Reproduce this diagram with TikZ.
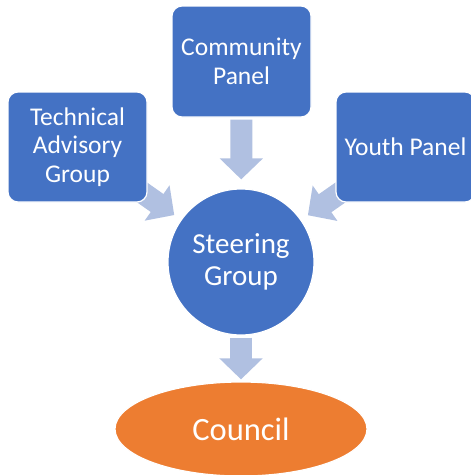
\documentclass[tikz,border=0pt]{standalone}
\usepackage{fontspec}
\setmainfont{Carlito}
\usetikzlibrary{arrows.meta,shapes.geometric}

\definecolor{boxblue}{HTML}{4472C4}
\definecolor{arrowblue}{HTML}{B0C0E1}
\definecolor{councilorange}{HTML}{ED7D31}

\pgfdeclarelayer{back}
\pgfsetlayers{back,main}

\tikzset{
  panel/.style={rectangle, rounded corners=10pt, fill=boxblue, draw=white,
    line width=1.2pt, minimum width=139pt, minimum height=110pt,
    text=white, align=center, inner sep=2pt,
    font=\fontsize{25.5}{28.5}\selectfont},
  hub/.style={circle, fill=boxblue, draw=white, line width=1.2pt,
    minimum size=146pt, inner sep=0pt, text=white, align=center,
    font=\fontsize{29}{32}\selectfont},
  outcome/.style={ellipse, fill=councilorange, draw=white, line width=1.2pt,
    minimum width=252pt, minimum height=94pt, inner sep=0pt, text=white,
    font=\fontsize{32.5}{36}\selectfont},
  flow/.style={draw=arrowblue, line width=22pt,
    -{Triangle[width=42pt,length=21pt,fill=arrowblue]}},
}

\begin{document}
\begin{tikzpicture}[x=1pt,y=-1pt]
  \useasboundingbox (0,0) rectangle (471,475);

  % nodes
  \node[panel, minimum height=111pt] (cp) at (241.5,61.5) {Community\\Panel};
  \node[panel] (tag) at (77.5,147) {Technical\\Advisory\\Group};
  \node[panel] (yp) at (405.5,147) {Youth Panel};
  \node[hub] (sg) at (241,262) {Steering\\Group};
  \node[outcome] (co) at (241,429) {Council};

  % block arrows, kept behind the shapes
  \begin{pgfonlayer}{back}
    \draw[flow, shorten <=2pt, shorten >=9pt] (cp) -- (sg);
    \draw[flow, shorten >=8pt] (tag.center) -- (sg);
    \draw[flow, shorten >=8pt] (yp.center) -- (sg);
    \draw[flow, shorten <=2pt, shorten >=2pt] (sg) -- (co);
  \end{pgfonlayer}
\end{tikzpicture}
\end{document}
